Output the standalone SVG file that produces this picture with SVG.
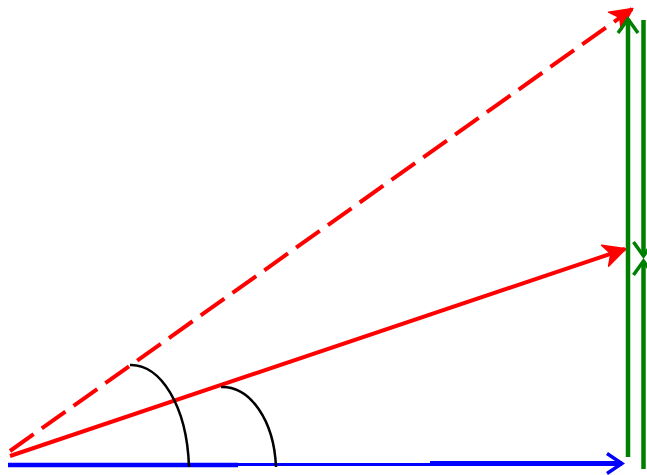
<svg xmlns="http://www.w3.org/2000/svg" width="647" height="475" viewBox="0 0 647 475">
<style>
.red{stroke:#ff0000;stroke-width:4;fill:none}
.grn{stroke:#008000;stroke-width:4.5;fill:none}
.blu{stroke:#0000ff;fill:none}
.arc{stroke:#000;stroke-width:2.5;fill:none}
</style>
<defs>
<marker id="redHead" viewBox="-24 -13 26 26" refX="0" refY="0" markerWidth="26" markerHeight="26" markerUnits="userSpaceOnUse" orient="auto">
<path d="M1,0 L-21,-11 L-15,0 L-21,11 Z" fill="#ff0000" stroke="#ff0000" stroke-width="1.5" stroke-linejoin="round"/>
</marker>
<marker id="grnHead" viewBox="-18 -13 21 26" refX="0" refY="0" markerWidth="21" markerHeight="26" markerUnits="userSpaceOnUse" orient="auto">
<path d="M-14,-10 L0,0 L-14,10" fill="none" stroke="#008000" stroke-width="3.5"/>
</marker>
<marker id="bluHead" viewBox="-18 -13 21 26" refX="0" refY="0" markerWidth="21" markerHeight="26" markerUnits="userSpaceOnUse" orient="auto">
<path d="M-15,-10 L0,0 L-15,10" fill="none" stroke="#0000ff" stroke-width="3.5"/>
</marker>
</defs>
<g id="connectors">
<path id="blue-axis" class="blu" d="M8,465 L238,465" stroke-width="4.5"/>
<path class="blu" d="M238,464.5 L430,464.5" stroke-width="3"/>
<path class="blu" d="M430,463.5 L622,463.5" stroke-width="5" marker-end="url(#bluHead)"/>
<path id="red-solid" class="red" d="M10,456 L625,249" marker-end="url(#redHead)"/>
<path id="red-dashed" class="red" d="M10,451 L632,9" stroke-dasharray="29 10" marker-end="url(#redHead)"/>
<path id="green-left" class="grn" d="M628,457 L628,19" marker-end="url(#grnHead)"/>
<path id="green-right-top" class="grn" d="M643.5,20 L643.5,256" marker-end="url(#grnHead)"/>
<path id="green-right-bottom" class="grn" d="M643.5,469 L643.5,261" marker-end="url(#grnHead)"/>
</g>
<g id="angle-arcs">
<path id="arc1" class="arc" d="M130,365 C160,364 187,405 189,467"/>
<path id="arc2" class="arc" d="M221,387 C250,386 274,420 276,467"/>
</g>
</svg>
